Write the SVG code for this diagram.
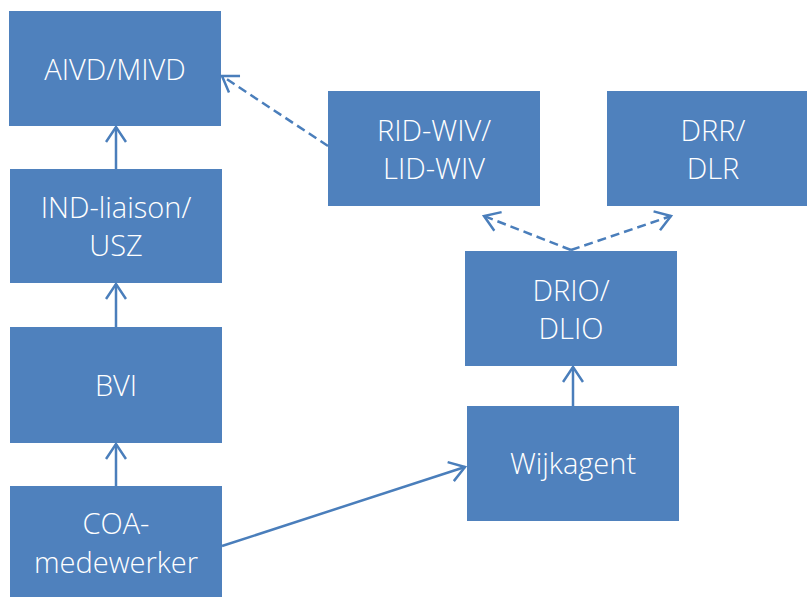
<svg xmlns="http://www.w3.org/2000/svg" width="807" height="597" viewBox="0 0 807 597">
<style>
.box{fill:#4F81BD;}
.t{font-family:"Open Sans","Liberation Sans",sans-serif;font-weight:300;font-size:29px;fill:#FFFFFF;text-anchor:middle;}
.c{stroke:#4A7EBB;stroke-width:2.5;fill:none;}
.d{stroke-dasharray:9,5;}
</style>
<defs>
<marker id="ah" markerWidth="20" markerHeight="22" refX="16" refY="11" orient="auto" markerUnits="userSpaceOnUse">
<path d="M1,1 L16,11 L1,21" fill="none" stroke="#4A7EBB" stroke-width="2.5"/>
</marker>
</defs>
<rect width="807" height="597" fill="#FFFFFF"/>
<g id="aivd"><rect class="box" x="9" y="11" width="212" height="115"/><text class="t" x="115" y="80">AIVD/MIVD</text></g>
<g id="ind"><rect class="box" x="10" y="169" width="212" height="114"/><text class="t" x="116" y="218">IND-liaison/</text><text class="t" x="116" y="256">USZ</text></g>
<g id="bvi"><rect class="box" x="10" y="327" width="212" height="116"/><text class="t" x="116" y="396">BVI</text></g>
<g id="coa"><rect class="box" x="10" y="486" width="212" height="111"/><text class="t" x="116" y="534">COA-</text><text class="t" x="116" y="573">medewerker</text></g>
<g id="rid"><rect class="box" x="328" y="91" width="212" height="115"/><text class="t" x="434" y="141">RID-WIV/</text><text class="t" x="434" y="179">LID-WIV</text></g>
<g id="drr"><rect class="box" x="607" y="91" width="200" height="115"/><text class="t" x="713" y="141">DRR/</text><text class="t" x="713" y="179">DLR</text></g>
<g id="drio"><rect class="box" x="465" y="251" width="212" height="115"/><text class="t" x="571" y="301">DRIO/</text><text class="t" x="571" y="339">DLIO</text></g>
<g id="wijk"><rect class="box" x="467" y="406" width="212" height="115"/><text class="t" x="573" y="474">Wijkagent</text></g>
<g id="connectors">
<line class="c" x1="116" y1="169" x2="116" y2="127" marker-end="url(#ah)"/>
<line class="c" x1="116" y1="327" x2="116" y2="284" marker-end="url(#ah)"/>
<line class="c" x1="116" y1="486" x2="116" y2="444" marker-end="url(#ah)"/>
<line class="c" x1="222" y1="546" x2="465" y2="467" marker-end="url(#ah)"/>
<line class="c" x1="573" y1="406" x2="573" y2="367" marker-end="url(#ah)"/>
<line class="c d" x1="328" y1="146" x2="222" y2="76" marker-end="url(#ah)"/>
<line class="c d" x1="571" y1="250" x2="484" y2="216" marker-end="url(#ah)"/>
<line class="c d" x1="571" y1="250" x2="671" y2="216" marker-end="url(#ah)"/>
</g>
</svg>
